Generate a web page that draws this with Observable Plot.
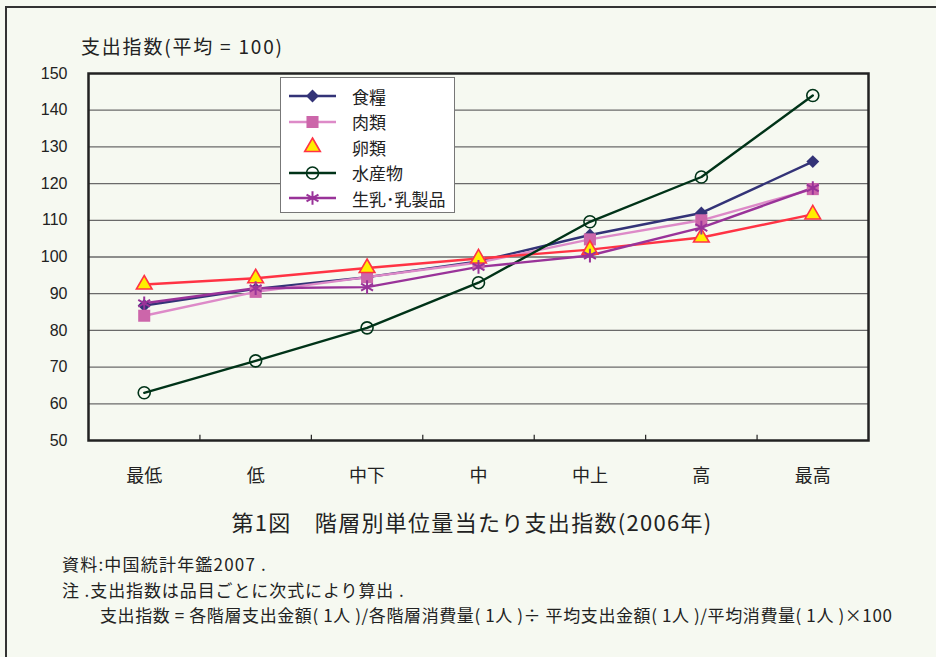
<!DOCTYPE html>
<html><head><meta charset="utf-8">
<script src="https://cdn.jsdelivr.net/npm/d3@7"></script>
<script src="https://cdn.jsdelivr.net/npm/@observablehq/plot@0.6"></script>
<style>
html,body{margin:0;padding:0;background:#F6F9F1;width:936px;height:657px;overflow:hidden;}
body{font-family:"Noto Sans CJK JP","Liberation Sans",sans-serif;color:#222;position:relative;}
#frame{position:absolute;left:5px;top:6px;width:1000px;height:1000px;border-left:2px solid #333;border-top:2px solid #333;}
#chart{position:absolute;left:0;top:0;}
.abs{position:absolute;white-space:nowrap;}
#ylab{left:81px;top:32px;font-size:19px;letter-spacing:1.8px;}
#legend{position:absolute;left:280px;top:77px;width:175px;height:136px;background:#fff;border:1.5px solid #777;box-sizing:border-box;}
.lrow{position:absolute;left:8px;height:22px;display:flex;align-items:center;}
.lrow span{margin-left:16px;font-size:17px;}
#title{left:0;width:944px;text-align:center;top:505px;font-size:22px;letter-spacing:1.3px;}
.foot{font-size:17px;left:62px;letter-spacing:0.6px;}
</style></head>
<body>
<div id="frame"></div>
<div id="chart"></div>
<div id="ylab" class="abs">支出指数(平均 = 100)</div>
<div id="legend"></div>
<div id="title" class="abs">第1図　階層別単位量当たり支出指数(2006年)</div>
<div class="abs foot" style="top:551px;letter-spacing:1.2px">資料:中国統計年鑑2007 .</div>
<div class="abs foot" style="top:577px;letter-spacing:0.9px">注 .支出指数は品目ごとに次式により算出 .</div>
<div class="abs foot" style="top:602px;left:100px">支出指数 = 各階層支出金額( 1人 )/各階層消費量( 1人 )÷ 平均支出金額( 1人 )/平均消費量( 1人 )×100</div>
<script>
const categories = ["最低","低","中下","中","中上","高","最高"];
const seriesNames = ["食糧","肉類","卵類","水産物","生乳･乳製品"];
const food  = [86.8, 91.3, 94.5, 98.8, 106.0, 112.0, 126.0];
const meat  = [84.0, 90.5, 94.5, 98.5, 104.8, 110.0, 118.5];
const eggs  = [92.5, 94.2, 97.0, 99.6, 102.0, 105.3, 111.6];
const fish  = [63.0, 71.7, 80.7, 93.0, 109.6, 121.8, 144.0];
const dairy = [87.4, 91.5, 91.8, 97.3, 100.4, 108.0, 118.8];
const yTicks = [50,60,70,80,90,100,110,120,130,140,150];

const values = [food, meat, eggs, fish, dairy];
const styles = [
  {line:"#333377", symbol:"diamond2", r:5.8, fill:"#333377", stroke:"none", sw:0, legendLine:true},
  {line:"#DD8AC8", symbol:"square", r:6.8, fill:"#CC66AA", stroke:"none", sw:0, legendLine:true},
  {line:"#FF3344", symbol:"triangle", r:5.8, fill:"#FFEE00", stroke:"#FF3344", sw:1.6, legendLine:false},
  {line:"#003318", symbol:"circle", r:6, fill:"none", stroke:"#003318", sw:1.6, legendLine:true},
  {line:"#993399", symbol:"asterisk", r:6.5, fill:"none", stroke:"#993399", sw:2, legendLine:true}
];

const rows = [];
seriesNames.forEach((s, si) => values[si].forEach((v, i) => rows.push({series: s, si, i, v})));
const boundaries = categories.slice(1).map((_, i) => i + 0.5);

const marks = [
  Plot.ruleY(yTicks.slice(1, -1), {stroke: "#6a6a6a", strokeWidth: 1.3}),
  Plot.ruleX(boundaries, {y1: 50, y2: 51.4, stroke: "#222", strokeWidth: 1.2})
];
seriesNames.forEach((s, si) => {
  const st = styles[si];
  const d = rows.filter(r => r.si === si);
  marks.push(Plot.line(d, {x: "i", y: "v", stroke: st.line, strokeWidth: 2.4}));
});
seriesNames.forEach((s, si) => {
  const st = styles[si];
  const d = rows.filter(r => r.si === si);
  marks.push(Plot.dot(d, {x: "i", y: "v", symbol: () => st.symbol, r: st.r, fill: st.fill, stroke: st.stroke, strokeWidth: st.sw}));
});
marks.push(Plot.frame({stroke: "#222", strokeWidth: 2.5}));

const chart = Plot.plot({
  width: 936, height: 500,
  marginLeft: 88, marginRight: 68, marginTop: 73, marginBottom: 60,
  style: {background: "transparent", fontFamily: "'Liberation Sans','Noto Sans CJK JP',sans-serif", fontSize: "16px", color: "#222"},
  x: {type: "linear", domain: [-0.5, categories.length - 0.5], ticks: categories.map((_, i) => i), tickFormat: i => categories[i], tickSize: 0, tickPadding: 29, label: null},
  y: {domain: [50, 150], ticks: yTicks, tickSize: 0, tickPadding: 21, label: null},
  symbol: {type: "identity"},
  marks
});
chart.querySelectorAll("g[aria-label='x-axis tick label'] text").forEach(t => {
  t.setAttribute("font-family", "'Noto Sans CJK JP',sans-serif");
  t.setAttribute("font-size", "18px");
});
document.getElementById("chart").appendChild(chart);

// legend
const symMap = {diamond2: d3.symbolDiamond2, square: d3.symbolSquare, triangle: d3.symbolTriangle, circle: d3.symbolCircle, asterisk: d3.symbolAsterisk};
const legend = d3.select("#legend");
seriesNames.forEach((s, si) => {
  const st = styles[si];
  const row = legend.append("div").attr("class", "lrow").style("top", (7 + si * 25.5) + "px");
  const svg = row.append("svg").attr("width", 47).attr("height", 22);
  if (st.legendLine) svg.append("line").attr("x1", 0).attr("x2", 47).attr("y1", 11).attr("y2", 11).attr("stroke", st.line).attr("stroke-width", 2.4);
  svg.append("path").attr("transform", "translate(23.5,11)")
    .attr("d", d3.symbol(symMap[st.symbol], Math.PI * st.r * st.r)())
    .attr("fill", st.fill).attr("stroke", st.stroke).attr("stroke-width", st.sw);
  row.append("span").text(s);
});
</script>
</body></html>
